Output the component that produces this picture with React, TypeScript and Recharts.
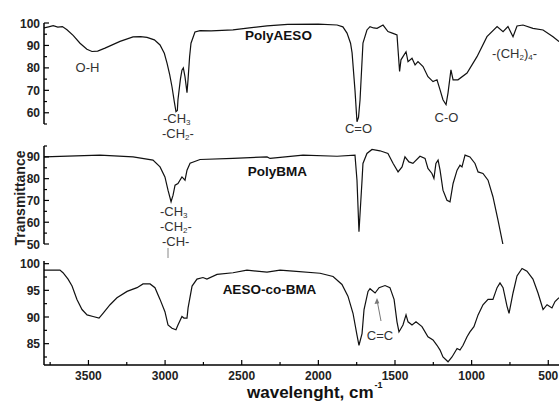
import { Line, LineChart, XAxis, YAxis } from 'recharts';

// wavenumbers (cm-1) and transmittance (%)
const aesoWave = [
  3790, 3760, 3730, 3700, 3670, 3640, 3600, 3555, 3510, 3477, 3440, 3392, 3294, 3209, 3160,
  3118, 3070, 3033, 3005, 2987, 2970, 2955, 2940, 2929, 2920, 2916, 2900, 2890, 2881, 2870,
  2857, 2850, 2840, 2831, 2805, 2772, 2700, 2557, 2450, 2335, 2200, 2000, 1878, 1840, 1813,
  1790, 1780, 1761, 1748, 1738, 1728, 1709, 1683, 1663, 1640, 1617, 1578, 1546, 1513, 1487,
  1470, 1461, 1448, 1428, 1415, 1389, 1369, 1350, 1317, 1285, 1252, 1226, 1206, 1187, 1167,
  1154, 1135, 1121, 1089, 1030, 965, 900, 834, 795, 763, 730, 704, 665, 600, 534, 469, 430,
];
const aesoT = [
  97.8, 98.3, 98.8, 98.2, 98.4, 97.0, 94.5, 91.0, 88.3, 87.3, 87.5, 88.8, 91.8, 93.8, 93.9,
  93.6, 92.5, 90.2, 86.5, 82.0, 77.0, 71.6, 65.0, 60.5, 61.0, 65.8, 75.0, 79.0, 80.0, 76.0,
  69.0, 75.0, 85.0, 91.0, 96.0, 96.6, 96.5, 96.9, 97.8, 98.7, 99.4, 99.5, 99.1, 98.3, 95.5,
  91.0, 86.7, 70.0, 56.0, 58.0, 65.8, 91.0, 96.9, 98.4, 97.8, 97.6, 99.1, 96.2, 95.4, 94.7,
  78.4, 83.6, 85.0, 87.2, 82.8, 84.3, 81.3, 82.8, 80.6, 76.1, 73.9, 74.7, 70.2, 65.8, 63.6,
  68.9, 79.1, 74.7, 74.7, 77.7, 85.0, 93.9, 98.4, 96.1, 98.4, 93.9, 98.7, 99.1, 97.6, 96.9,
  93.9, 91.7,
];

const bmaWave = [
  3790, 3425, 3209, 3079, 3033, 3001, 2981, 2961, 2948, 2935, 2916, 2890, 2870, 2857, 2837,
  2772, 2557, 2335, 2315, 2100, 1878, 1761, 1748, 1735, 1715, 1709, 1683, 1650, 1598, 1546,
  1513, 1480, 1454, 1435, 1409, 1383, 1337, 1304, 1285, 1259, 1246, 1233, 1219, 1206, 1187,
  1161, 1141, 1121, 1095, 1076, 1063, 1043, 1011, 978, 958, 926, 893, 861, 828, 795,
];
const bmaT = [
  90.0, 90.8, 90.0, 88.5, 85.4, 80.8, 74.7, 69.4, 72.4, 77.0, 77.8, 80.8, 79.3, 83.9, 87.1,
  88.8, 89.3, 90.0, 89.3, 90.8, 90.3, 90.8, 79.3, 55.6, 79.3, 87.0, 91.6, 93.4, 92.8, 91.6,
  87.1, 83.1, 85.4, 90.0, 87.7, 87.0, 90.3, 89.3, 84.7, 82.4, 80.1, 87.0, 88.5, 83.9, 74.7,
  70.1, 69.4, 77.8, 83.9, 86.2, 85.4, 90.8, 90.0, 87.0, 83.1, 82.4, 79.3, 71.7, 61.0, 49.5,
];

const copoWave = [
  3790, 3686, 3666, 3633, 3607, 3575, 3542, 3509, 3470, 3431, 3405, 3359, 3314, 3248, 3183,
  3144, 3098, 3066, 3033, 3001, 2981, 2955, 2929, 2916, 2890, 2877, 2857, 2850, 2824, 2792,
  2753, 2727, 2661, 2557, 2466, 2335, 2250, 2165, 1989, 1904, 1846, 1807, 1774, 1748, 1735,
  1715, 1702, 1676, 1663, 1630, 1604, 1565, 1533, 1506, 1487, 1474, 1448, 1428, 1415, 1389,
  1363, 1324, 1285, 1252, 1226, 1206, 1187, 1154, 1128, 1095, 1076, 1056, 1030, 1011, 985,
  958, 926, 893, 861, 834, 815, 795, 769, 756, 730, 704, 671, 639, 600, 567, 534, 508, 476,
  456, 430,
];
const copoT = [
  98.8, 98.8, 98.3, 97.1, 95.8, 93.3, 91.4, 90.4, 90.1, 89.8, 90.7, 92.3, 93.6, 94.8, 95.5,
  96.2, 96.2, 95.5, 93.3, 91.0, 88.5, 87.9, 87.6, 88.5, 90.1, 89.8, 89.8, 91.7, 95.8, 97.1,
  97.4, 97.1, 98.0, 98.3, 98.8, 98.4, 98.8, 98.6, 98.2, 97.6, 96.1, 93.9, 90.7, 86.6, 84.7,
  86.9, 91.4, 94.8, 95.3, 94.5, 95.5, 95.9, 95.5, 93.3, 89.1, 87.2, 88.5, 90.4, 89.1, 88.5,
  89.1, 88.2, 86.3, 85.7, 84.7, 83.8, 82.5, 81.6, 82.5, 84.1, 83.8, 84.7, 86.3, 87.2, 88.2,
  90.4, 92.3, 93.3, 93.3, 95.5, 96.4, 95.5, 92.0, 90.7, 94.5, 97.7, 99.1, 98.6, 97.1, 94.5,
  91.4, 92.3, 91.7, 92.9, 93.6,
];

const xMajor = [3500, 3000, 2500, 2000, 1500, 1000, 500];
const xMinor = [3750, 3250, 2750, 2250, 1750, 1250, 750];

const aesoMajor = [60, 70, 80, 90, 100];
const aesoMinor = [55, 65, 75, 85, 95];
const bmaMajor = [50, 60, 70, 80, 90];
const bmaMinor = [55, 65, 75, 85, 95];
const copoMajor = [85, 90, 95, 100];
const copoMinor = [82.5, 87.5, 92.5, 97.5];

const FONT = "Arial, 'Liberation Sans', Helvetica, sans-serif";
const W = 559;
const PAD = 10;
const X_DOMAIN: [number, number] = [430, 3790];

const zip = (xs: number[], ys: number[]) => xs.map((x, i) => ({ x, t: ys[i] }));

const yTick = (majors: number[]) => (props: any) => {
  const { x, y, payload } = props;
  const major = majors.includes(payload.value);
  return (
    <g>
      <line x1={x} x2={x + (major ? 5 : 3)} y1={y} y2={y} stroke="#000" strokeWidth={1.2} />
      {major && (
        <text x={x - 4} y={y} dy={4.5} textAnchor="end" fontFamily={FONT} fontSize={12}
          fontWeight="bold" fill="#222">
          {payload.value}
        </text>
      )}
    </g>
  );
};

const xTick = (props: any) => {
  const { x, y, payload } = props;
  const major = xMajor.includes(payload.value);
  return (
    <g>
      <line x1={x} x2={x} y1={y} y2={y - (major ? 5 : 3)} stroke="#000" strokeWidth={1.2} />
      {major && (
        <text x={x} y={y + 15} textAnchor="middle" fontFamily={FONT} fontSize={12}
          fontWeight="bold" fill="#222">
          {payload.value}
        </text>
      )}
    </g>
  );
};

type PanelProps = {
  top: number;
  height: number;
  data: { x: number; t: number }[];
  domain: [number, number];
  majors: number[];
  minors: number[];
  showX?: boolean;
};

// top/height describe the plot area; the chart gets some padding so edge labels are not cut
function Panel({ top, height, data, domain, majors, minors, showX }: PanelProps) {
  const bottomPad = showX ? 0 : PAD;
  return (
    <div style={{ position: 'absolute', left: 0, top: top - PAD }}>
      <LineChart width={W} height={height + PAD + bottomPad} data={data}
        margin={{ top: PAD, right: 0, bottom: bottomPad, left: 0 }}>
        <XAxis
          dataKey="x"
          type="number"
          domain={X_DOMAIN}
          reversed
          allowDataOverflow
          hide={!showX}
          height={36}
          ticks={[...xMajor, ...xMinor]}
          interval={0}
          tickSize={0}
          tickMargin={0}
          tickLine={false}
          axisLine={{ stroke: '#000', strokeWidth: 1.5 }}
          tick={xTick}
        />
        <YAxis
          type="number"
          width={44}
          domain={domain}
          allowDataOverflow
          ticks={[...majors, ...minors]}
          interval={0}
          tickSize={0}
          tickMargin={0}
          tickLine={false}
          axisLine={{ stroke: '#000', strokeWidth: 1.5 }}
          tick={yTick(majors)}
        />
        <Line
          type="linear"
          dataKey="t"
          stroke="#111"
          strokeWidth={1.2}
          dot={false}
          isAnimationActive={false}
        />
      </LineChart>
    </div>
  );
}

const note = { fontFamily: FONT, fontSize: 13, fill: '#333' } as const;
const title = { fontFamily: FONT, fontSize: 13.5, fontWeight: 'bold', fill: '#111' } as const;

export default function App() {
  return (
    <div style={{ position: 'absolute', left: 0, top: 0, width: W, height: 401, background: '#fff' }}>
      <Panel top={23} height={101} data={zip(aesoWave, aesoT)} domain={[55, 100]}
        majors={aesoMajor} minors={aesoMinor} />
      <Panel top={146} height={98} data={zip(bmaWave, bmaT)} domain={[50, 95]}
        majors={bmaMajor} minors={bmaMinor} />
      <Panel top={261} height={140} data={zip(copoWave, copoT)} domain={[81, 100.5]}
        majors={copoMajor} minors={copoMinor} showX />

      <svg width={W} height={401} style={{ position: 'absolute', left: 0, top: 0, pointerEvents: 'none' }}>
        <text x={25} y={198} transform="rotate(-90 25 198)" textAnchor="middle" fontFamily={FONT}
          fontSize={14} fontWeight="bold" fill="#222">
          Transmittance
        </text>
        <text x={247} y={398} fontFamily={FONT} fontSize={17} fontWeight="bold" fill="#111">
          wavelenght, cm
          <tspan dx={1} dy={-10} fontSize={9}>-1</tspan>
        </text>

        <text x={278.5} y={40} textAnchor="middle" {...title}>PolyAESO</text>
        <text x={277.5} y={176} textAnchor="middle" {...title}>PolyBMA</text>
        <text x={269.5} y={294} textAnchor="middle" {...title}>AESO-co-BMA</text>

        <text x={87.5} y={72} textAnchor="middle" {...note}>O-H</text>
        <text x={163} y={123} {...note}>-CH<tspan fontSize={8} dy={2}>3</tspan></text>
        <text x={162} y={138} {...note}>-CH<tspan fontSize={8} dy={2}>2</tspan><tspan dy={-2}>-</tspan></text>
        <text x={358.5} y={132.5} textAnchor="middle" {...note}>C=O</text>
        <text x={446.5} y={121.5} textAnchor="middle" {...note}>C-O</text>
        <text x={492} y={57.5} {...note}>
          -(CH<tspan fontSize={8} dy={2}>2</tspan><tspan dy={-2}>)</tspan><tspan fontSize={8} dy={2}>4</tspan><tspan dy={-2}>-</tspan>
        </text>

        <text x={160} y={216} {...note}>-CH<tspan fontSize={8} dy={2}>3</tspan></text>
        <text x={160} y={231} {...note}>-CH<tspan fontSize={8} dy={2}>2</tspan><tspan dy={-2}>-</tspan></text>
        <text x={162} y={245.5} {...note}>-CH-</text>
        <line x1={168} x2={168} y1={248} y2={258} stroke="#888" strokeWidth={1} />

        <text x={380} y={339.5} textAnchor="middle" {...note}>C=C</text>
        <line x1={381} y1={321} x2={377} y2={300} stroke="#777" strokeWidth={1} />
        <path d="M377 298 L374.5 304 L379.3 303.2 Z" fill="#777" />
      </svg>
    </div>
  );
}
